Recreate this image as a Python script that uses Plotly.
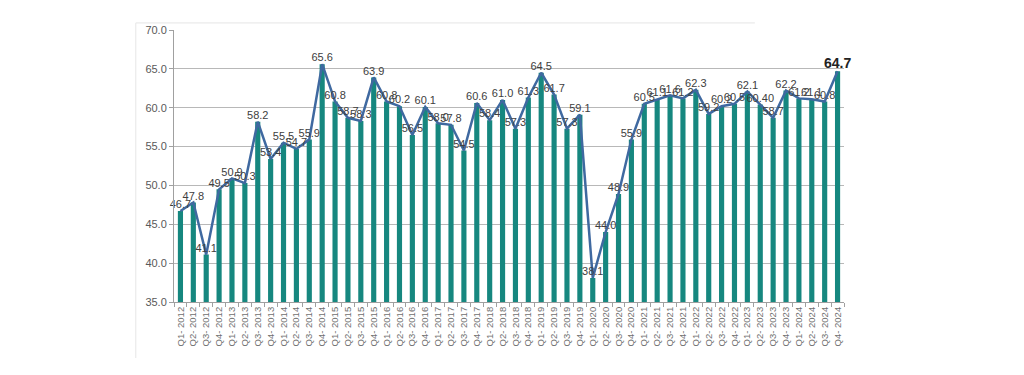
import plotly.graph_objects as go

years = list(range(2012, 2025))
quarters = [f"Q{q}- {y}" for y in years for q in range(1, 5)]

values = [
    46.7, 47.8, 41.1, 49.5,
    50.9, 50.3, 58.2, 53.4,
    55.5, 54.7, 55.9, 65.6,
    60.8, 58.7, 58.3, 63.9,
    60.8, 60.2, 56.5, 60.1,
    58.0, 57.8, 54.5, 60.6,
    58.4, 61.0, 57.3, 61.3,
    64.5, 61.7, 57.3, 59.1,
    38.1, 44.0, 48.9, 55.9,
    60.5, 61.1, 61.6, 61.2,
    62.3, 59.2, 60.2, 60.5,
    62.1, 60.4, 58.7, 62.2,
    61.2, 61.1, 60.8, 64.7,
]
label_overrides = {45: "60.40"}

labels = [label_overrides.get(i, f"{v:.1f}") for i, v in enumerate(values)]
last = len(values) - 1
line_labels = [t if i != last else "" for i, t in enumerate(labels)]

bar_color = "#16877F"
line_color = "#3F69A0"

fig = go.Figure()
fig.add_trace(go.Bar(
    x=quarters, y=values, marker=dict(color=bar_color, line=dict(width=0)),
    hoverinfo="skip", showlegend=False,
))
fig.add_trace(go.Scatter(
    x=quarters, y=values, mode="lines+text", text=line_labels,
    textposition="top center", cliponaxis=False,
    textfont=dict(family="Liberation Sans, Arial", size=11, color="#404040"),
    line=dict(color=line_color, width=2.5), showlegend=False,
))
fig.add_trace(go.Scatter(
    x=[quarters[last]], y=[values[last]], mode="text", text=[labels[last]],
    textposition="top center", cliponaxis=False,
    textfont=dict(family="Liberation Sans, Arial", size=14, color="#222222"),
    texttemplate="<b>%{text}</b>", showlegend=False,
))

fig.update_layout(
    width=1024, height=375,
    margin=dict(l=166, r=188, t=22, b=81),
    paper_bgcolor="white", plot_bgcolor="white",
    bargap=0.6,
    font=dict(family="Liberation Sans, Arial", color="#595959"),
    shapes=[
        dict(type="line", xref="paper", yref="paper", x0=-0.057, x1=0.867,
             y0=1.026, y1=1.026, line=dict(color="#e6e6e6", width=1)),
        dict(type="line", xref="paper", yref="paper", x0=-0.057, x1=-0.057,
             y0=1.026, y1=-0.206, line=dict(color="#e6e6e6", width=1)),
    ],
)
fig.update_yaxes(
    range=[35, 70], dtick=5, tickformat=".1f",
    showgrid=True, gridcolor="#b8b8b8", gridwidth=1,
    showline=True, linecolor="#a0a0a0", linewidth=1,
    ticks="outside", ticklen=4, tickcolor="#a0a0a0",
    tickfont=dict(size=11, color="#595959"), zeroline=False,
)
fig.update_xaxes(
    type="category", tickangle=-90, range=[-0.5, len(values) - 0.5],
    showline=True, linecolor="#a0a0a0", linewidth=1,
    ticks="outside", ticklen=4, tickcolor="#a0a0a0", tickson="boundaries",
    tickfont=dict(size=9.5, color="#707070"), showgrid=False,
)

fig.write_html("out.html")
